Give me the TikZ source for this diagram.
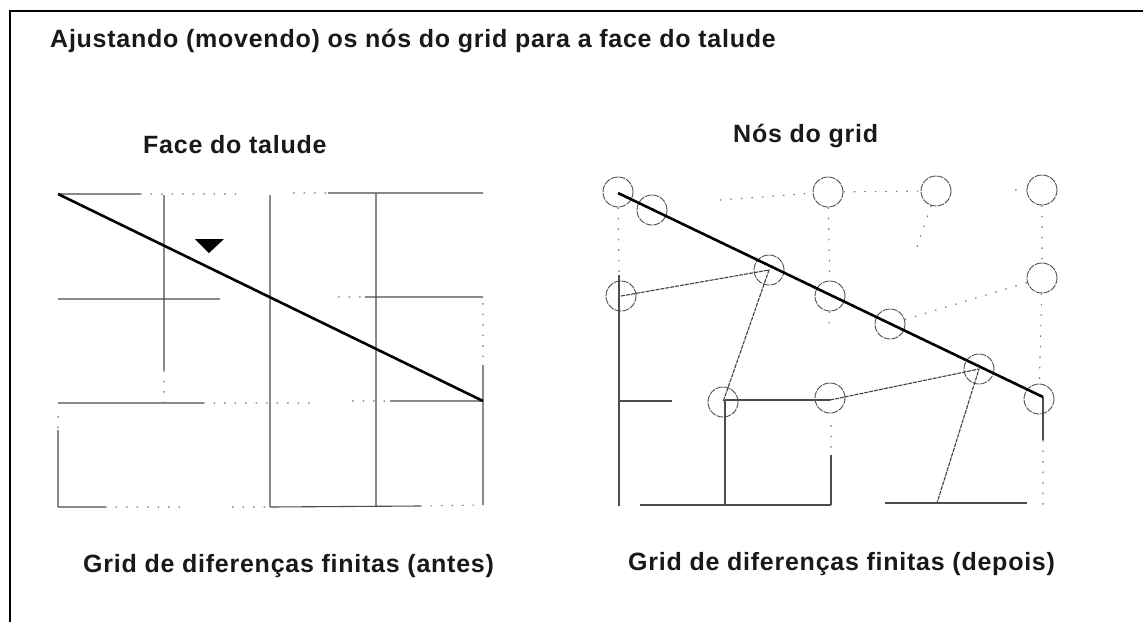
\documentclass[tikz,border=0pt]{standalone}
\usepackage{fontspec}
\setmainfont{Liberation Sans}[LetterSpace=3]
\begin{document}
\begin{tikzpicture}[x=1pt,y=-1pt,
  lab/.style={font=\bfseries\fontsize{25}{28}\selectfont,anchor=base west,inner sep=0pt,text=black!90},
  ring/.style={circle,draw=black!70,line width=0.9pt,dash pattern=on 7pt off 1pt,minimum size=30pt,inner sep=0pt},
  gridl/.style={draw=black!70,line width=1.1pt},
  dashl/.style={draw=black!75,line width=1.1pt,dash pattern=on 4pt off 1pt},
  dotl/.style={draw=black!55,line width=1.1pt,dash pattern=on 1.5pt off 9pt},
  slope/.style={draw=black,line width=2.6pt}]
\useasboundingbox (0,0) rectangle (1143,622);
\fill[white] (0,0) rectangle (1143,622);
\draw[black,line width=2pt] (9.5,622) -- (9.5,11) -- (1143,11);
% texts
\node[lab] (title) at (50,47) {Ajustando (movendo) os nós do grid para a face do talude};
\node[lab] (t1) at (143,153) {Face do talude};
\node[lab] (t2) at (733,142) {Nós do grid};
\node[lab] (c1) at (83,572) {Grid de diferenças finitas (antes)};
\node[lab] (c2) at (628,570) {Grid de diferenças finitas (depois)};
% left grid
\coordinate (A1) at (58,194);
\coordinate (A2) at (483,401);
\foreach \n/\x/\y in {a/140/194,b/245/194,c/293/193,d/328/193,e/483/193,
  f/164/195,g/164/370,h/164/403,i/270/195,j/270/507,k/376/193,l/376/507,
  m/483/303,n/483/365,o/483/505,p/58/416,q/58/430,r/58/507,
  s/58/299,t/220/299,u/338/297,v/365/297,w/483/297,
  x/58/403,y/203/403,z/310/403,aa/352/401,ab/390/401,
  ac/105/507,ad/180/507,ae/232/507,af/270/507,ag/420/506,ah/483/505}
  {\coordinate (\n) at (\x,\y);}
\draw[gridl] (A1) -- (a) (d) -- (e) (f) -- (g) (i) -- (j) (k) -- (l) (n) -- (A2) (A2) -- (o)
  (q) -- (r) (s) -- (t) (v) -- (w) (x) -- (y) (ab) -- (A2) (r) -- (ac) (af) -- (ag);
\draw[dotl] (a) -- (b) (c) -- (d) (g) -- (h) (m) -- (n) (p) -- (q) (u) -- (v) (y) -- (z) (aa) -- (ab)
  (ac) -- (ad) (ae) -- (af) (ag) -- (ah);
\draw[slope] (A1) -- (A2);
\fill[black] (195,239) coordinate (tr1) -- (224,239) coordinate (tr2) -- (209,253) coordinate (tr3) -- cycle;
% right grid
\foreach \n/\x/\y in {n1/618/192,n2/652/210,n3/828/192,n4/936/191,n5/1042/190,
  n6/769/270,n7/621/296,n8/830/296,n9/1042/278,n10/890/324,n11/979/369,
  n12/723/402,n13/830/398,n14/1039/399}
  {\node[ring] (\n) at (\x,\y) {};}
\coordinate (S1) at (618,193);
\coordinate (S2) at (1043,397);
\coordinate (v1) at (619,275);
\coordinate (v2) at (619,506);
\coordinate (h1) at (619,401);
\coordinate (h2) at (672,401);
\coordinate (j1) at (830,400);
\coordinate (j2) at (725,400);
\coordinate (b1) at (725,505);
\coordinate (b0) at (640,505);
\coordinate (b2) at (831,505);
\coordinate (b3) at (831,455);
\coordinate (b7) at (831,425);
\coordinate (b4) at (885,503);
\coordinate (b5) at (1027,503);
\coordinate (b6) at (937,503);
\coordinate (e1) at (1043,440);
\coordinate (e2) at (1043,506);
\coordinate (d1) at (917,247);
\coordinate (d2) at (720,200);
\coordinate (d3) at (1015,190);
\coordinate (d4) at (829,325);
\draw[dashl] (n7.center) -- (n6.center) -- (n12.center) (j1) -- (n11.center) -- (b6);
\draw[gridl] (v1) -- (v2) (h1) -- (h2) (j2) -- (j1) (j2) -- (b1) (b0) -- (b2)
  (b3) -- (b2) (b4) -- (b5) (S2) -- (e1);
\draw[dotl] (d2) -- (n3) (n3) -- (n4) (d3) -- (n5) (n3) -- (n8) (n8) -- (d4) (n4) -- (d1)
  (n5) -- (n9) (n9) -- (n14) (n10) -- (n9) (n1) -- (v1) (e1) -- (e2) (b7) -- (b3);
\draw[slope] (S1) -- (S2);
\end{tikzpicture}
\end{document}
